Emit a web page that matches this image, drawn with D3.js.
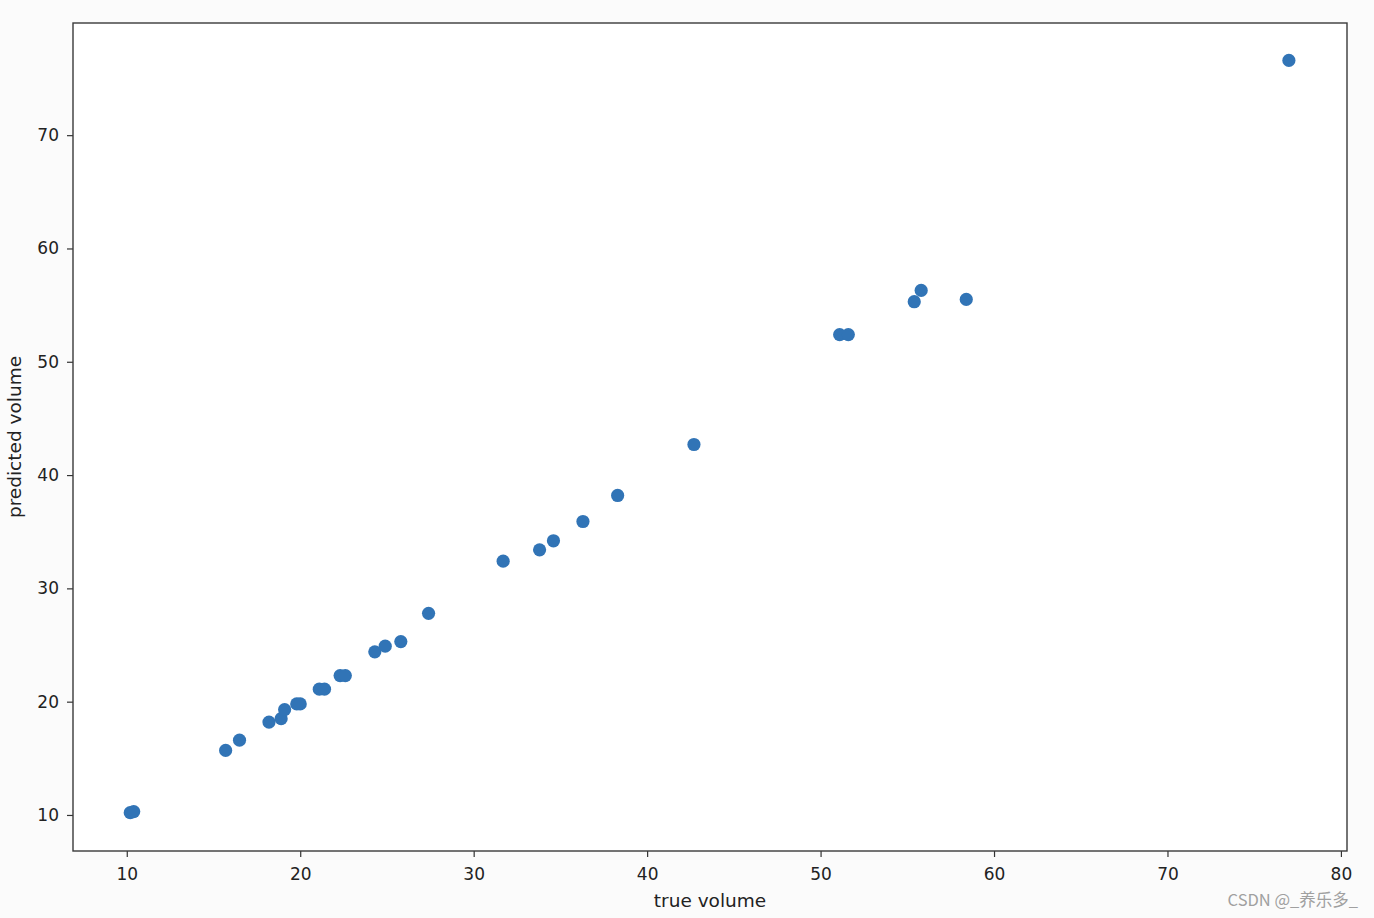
<!DOCTYPE html>
<html>
<head>
<meta charset="utf-8">
<script src="https://cdn.jsdelivr.net/npm/d3@7"></script>
<style>
  html, body { margin: 0; padding: 0; background: #fbfbfb; }
  text { font-family: "DejaVu Sans", sans-serif; }
</style>
</head>
<body>
<div id="d3"></div>
<script>
// values
const trueVolume = [10.2, 10.4, 15.7, 16.5, 18.2, 18.9, 19.1, 19.8, 20.0, 21.1, 21.4,
  22.3, 22.6, 24.3, 24.9, 25.8, 27.4, 31.7, 33.8, 34.6, 36.3, 38.3, 42.7,
  51.1, 51.6, 55.4, 55.8, 58.4, 77.0];
const predictedVolume = [10.2, 10.3, 15.7, 16.6, 18.2, 18.5, 19.3, 19.8, 19.8, 21.1, 21.1,
  22.3, 22.3, 24.4, 24.9, 25.3, 27.8, 32.4, 33.4, 34.2, 35.9, 38.2, 42.7,
  52.4, 52.4, 55.3, 56.3, 55.5, 76.6];
const xTicks = [10, 20, 30, 40, 50, 60, 70, 80];
const yTicks = [10, 20, 30, 40, 50, 60, 70];

// setup canvas
const canvas_width = 1374;
const canvas_height = 918;
const margin = {left: 73, right: 27, top: 23, bottom: 67};

const svg = d3.select("#d3").append("svg")
  .attr("width", canvas_width)
  .attr("height", canvas_height);

svg.append("rect")
  .attr("width", canvas_width)
  .attr("height", canvas_height)
  .attr("fill", "#fbfbfb");

const x = d3.scaleLinear()
  .domain([6.9, 80.35])
  .range([margin.left, canvas_width - margin.right]);
const y = d3.scaleLinear()
  .domain([6.82, 79.9])
  .range([canvas_height - margin.bottom, margin.top]);

// plot area
svg.append("rect")
  .attr("x", margin.left)
  .attr("y", margin.top)
  .attr("width", canvas_width - margin.left - margin.right)
  .attr("height", canvas_height - margin.top - margin.bottom)
  .attr("fill", "#ffffff");

// axes
const xAxis = svg.append("g")
  .attr("transform", "translate(0," + (canvas_height - margin.bottom) + ")")
  .call(d3.axisBottom(x).tickValues(xTicks).tickSize(6).tickPadding(11));
const yAxis = svg.append("g")
  .attr("transform", "translate(" + margin.left + ",0)")
  .call(d3.axisLeft(y).tickValues(yTicks).tickSize(6).tickPadding(8));

[xAxis, yAxis].forEach(function(g) {
  g.select(".domain").remove();
  g.selectAll(".tick line").attr("stroke", "#333").attr("stroke-width", 1.2);
  g.selectAll(".tick text")
    .attr("fill", "#222")
    .style("font-size", "17px")
    .style("font-family", "DejaVu Sans, sans-serif");
});

// frame
svg.append("rect")
  .attr("x", margin.left)
  .attr("y", margin.top)
  .attr("width", canvas_width - margin.left - margin.right)
  .attr("height", canvas_height - margin.top - margin.bottom)
  .attr("fill", "none")
  .attr("stroke", "#3a3a3a")
  .attr("stroke-width", 1.4);

// points
const points = trueVolume.map(function(d, i) { return {t: d, p: predictedVolume[i]}; });
svg.append("g")
  .selectAll("circle")
  .data(points)
  .enter()
  .append("circle")
    .attr("cx", function(d) { return x(d.t); })
    .attr("cy", function(d) { return y(d.p); })
    .attr("r", 6.6)
    .attr("fill", "#3174b6");

// axis labels
svg.append("text")
  .attr("x", (margin.left + canvas_width - margin.right) / 2)
  .attr("y", 907)
  .attr("text-anchor", "middle")
  .attr("fill", "#222")
  .style("font-size", "18.5px")
  .text("true volume");

svg.append("text")
  .attr("transform", "translate(21," + ((margin.top + canvas_height - margin.bottom) / 2) + ") rotate(-90)")
  .attr("text-anchor", "middle")
  .attr("fill", "#222")
  .style("font-size", "18.5px")
  .text("predicted volume");

// watermark
svg.append("text")
  .attr("x", 1358)
  .attr("y", 906)
  .attr("text-anchor", "end")
  .attr("fill", "#a0a0a0")
  .style("font-family", "Noto Sans CJK SC, sans-serif")
  .style("font-size", "16.5px")
  .text("CSDN @_养乐多_");
</script>
</body>
</html>
